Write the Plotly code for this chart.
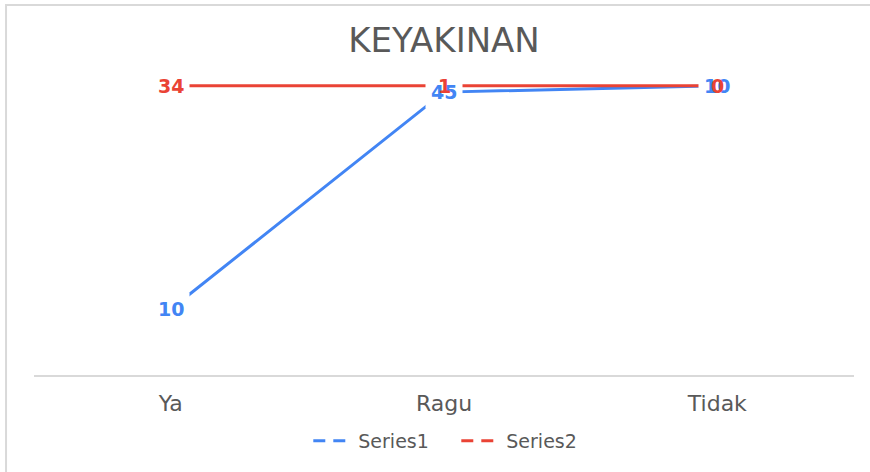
import numpy as np
import plotly.graph_objects as go

categories = ["Ya", "Ragu", "Tidak"]
series1 = [10, 45, 10]
series2 = [34, 1, 0]
series_names = ["Series1", "Series2"]
colors = ["#4285F4", "#EA4335"]

s1 = np.array(series1, dtype=float)
s2 = np.array(series2, dtype=float)
total = s1 + s2
cum1 = s1 / total          # 100% stacked line
cum2 = (s1 + s2) / total

FONT = "DejaVu Sans"
fig = go.Figure()

for name, yv, col in zip(series_names, [cum1, cum2], colors):
    fig.add_trace(go.Scatter(x=categories, y=yv, mode="lines", name=name,
                             line=dict(color=col, width=3), showlegend=False,
                             hoverinfo="skip"))
    # legend-only dashed sample
    fig.add_trace(go.Scatter(x=[None], y=[None], mode="lines", name=name,
                             line=dict(color=col, width=3, dash="12px,8px")))

annotations = []
# white label backgrounds first
for yv, raw, col in [(cum1, series1, colors[0]), (cum2, series2, colors[1])]:
    for c, y, v in zip(categories, yv, raw):
        annotations.append(dict(x=c, y=y, xref="x", yref="y", text=f"<b>{v}</b>",
                                showarrow=False, bgcolor="white", borderpad=5,
                                font=dict(family=FONT, size=19, color="rgba(0,0,0,0)")))
# label texts
for yv, raw, col in [(cum1, series1, colors[0]), (cum2, series2, colors[1])]:
    for c, y, v in zip(categories, yv, raw):
        annotations.append(dict(x=c, y=y, xref="x", yref="y", text=f"<b>{v}</b>",
                                showarrow=False, borderpad=5,
                                font=dict(family=FONT, size=19, color=col)))

fig.update_layout(
    width=870, height=472,
    margin=dict(l=34, r=16, t=28, b=97),
    paper_bgcolor="white", plot_bgcolor="white",
    title=dict(text="KEYAKINAN", x=0.5, xanchor="center", xref="paper",
               y=1 - 40 / 472, yanchor="middle", yref="container",
               font=dict(family=FONT, size=34, color="#595959")),
    xaxis=dict(showline=True, linecolor="#d9d9d9", linewidth=2, showgrid=False,
               ticks="outside", ticklen=8, tickcolor="rgba(0,0,0,0)",
               tickfont=dict(family=FONT, size=22, color="#595959"),
               range=[-0.5, 2.5], fixedrange=True),
    yaxis=dict(visible=False, range=[0, 1.2], showgrid=False, zeroline=False),
    legend=dict(orientation="h", x=0.515, xanchor="center", y=-0.19, yanchor="middle",
                font=dict(family=FONT, size=19, color="#595959"),
                itemwidth=40, entrywidth=93),
    annotations=annotations,
    shapes=[dict(type="rect", xref="paper", yref="paper",
                 x0=-0.0341, x1=1.1, y0=-0.4, y1=1.0663,
                 line=dict(color="#d9d9d9", width=2), layer="below")],
)

fig.write_html("out.html", config={"displayModeBar": False},
               post_script="document.body.style.margin='0';document.body.style.padding='0';")
